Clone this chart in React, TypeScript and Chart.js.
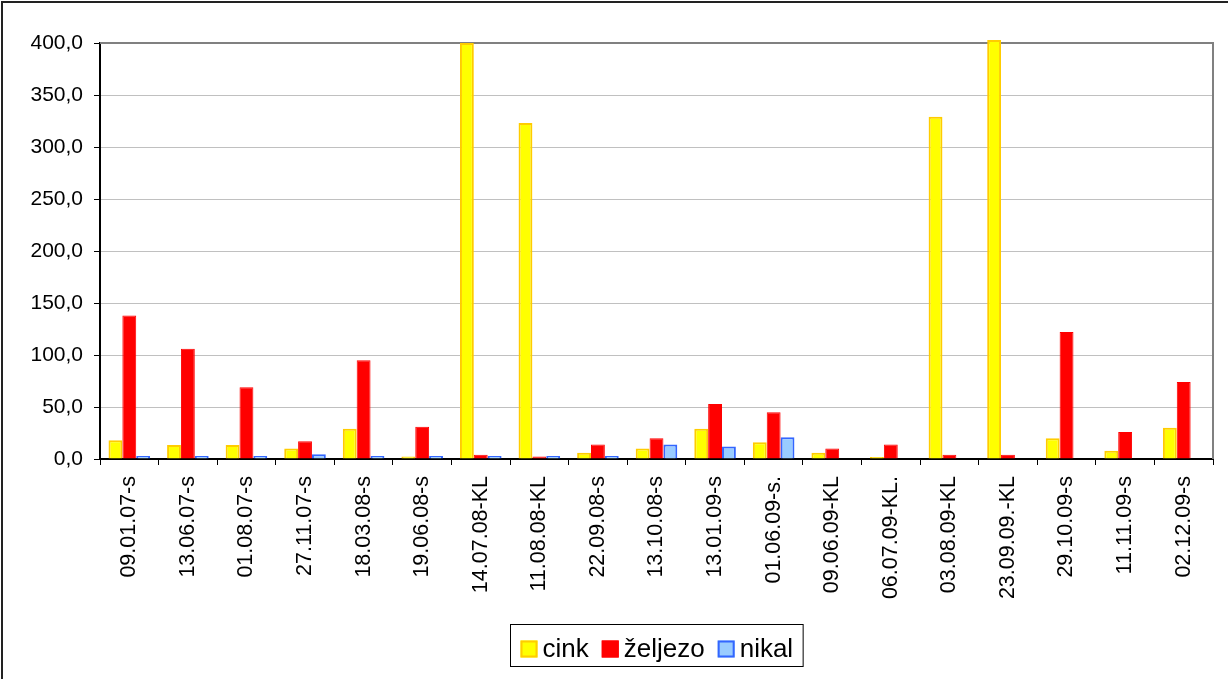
import { useEffect, useRef } from 'react';
import { Chart, registerables } from 'chart.js';

Chart.register(...registerables);

const categories = [
  '09.01.07-s', '13.06.07-s', '01.08.07-s', '27.11.07-s', '18.03.08-s', '19.06.08-s',
  '14.07.08-KL', '11.08.08-KL', '22.09.08-s', '13.10.08-s', '13.01.09-s', '01.06.09-s.',
  '09.06.09-KL', '06.07.09-KL.', '03.08.09-KL', '23.09.09.-KL', '29.10.09-s', '11.11.09-s', '02.12.09-s',
];
const cinkValues = [18, 13.5, 13.5, 10, 29, 2.5, 400, 323, 6, 10, 29, 16, 6, 2, 329, 403, 20, 8, 30];
const zeljezoValues = [138, 106, 69, 17, 95, 31, 4, 2.5, 14, 20, 53, 45, 10, 14, 4, 4, 122, 26, 74];
const nikalValues = [3, 3, 3, 4.5, 3, 3, 3, 3, 3, 14, 12, 21, null, null, null, null, null, null, null];
const seriesLabels = ['cink', 'željezo', 'nikal'];
const yMin = 0;
const yMax = 400;
const yStep = 50;

const FONT = '"Liberation Sans", Arial, sans-serif';

const framePlugin = {
  id: 'frame',
  beforeDatasetsDraw(chart: any) {
    const { ctx, chartArea: ca } = chart;
    ctx.save();
    ctx.strokeStyle = '#808080';
    ctx.lineWidth = 2;
    ctx.beginPath();
    ctx.moveTo(ca.left, ca.top);
    ctx.lineTo(ca.right, ca.top);
    ctx.lineTo(ca.right, ca.bottom);
    ctx.stroke();
    ctx.restore();
  },
  afterDraw(chart: any) {
    const { ctx, chartArea: ca, width } = chart;
    ctx.save();
    // outer chart border (left + top)
    ctx.strokeStyle = '#222';
    ctx.lineWidth = 2;
    ctx.beginPath();
    ctx.moveTo(2, chart.height);
    ctx.lineTo(2, 2);
    ctx.lineTo(width, 2);
    ctx.stroke();

    // legend
    ctx.font = '26px ' + FONT;
    const box = 17;
    const gap = 5;
    const spacing = 13;
    const padX = 10;
    const items = chart.data.datasets.map((ds: any) => ({
      label: ds.label,
      fill: ds.backgroundColor,
      stroke: ds.borderColor,
      w: ctx.measureText(ds.label).width,
    }));
    const total =
      items.reduce((s: number, it: any) => s + box + gap + it.w, 0) + spacing * (items.length - 1) + padX * 2;
    const cx = (ca.left + ca.right) / 2;
    const left = Math.round(cx - total / 2) + 0.5;
    const top = chart.height - 55 + 0.5;
    const h = 42;
    ctx.fillStyle = '#fff';
    ctx.fillRect(left, top, total, h);
    ctx.strokeStyle = '#000';
    ctx.lineWidth = 1;
    ctx.strokeRect(left, top, total, h);
    const baseline = top + 32;
    let x = left + padX;
    items.forEach((it: any) => {
      ctx.fillStyle = it.fill;
      ctx.fillRect(x, baseline - 16, box, box);
      ctx.strokeStyle = it.stroke;
      ctx.lineWidth = 2;
      ctx.strokeRect(x + 1, baseline - 15, box - 2, box - 2);
      x += box + gap;
      ctx.fillStyle = '#000';
      ctx.textBaseline = 'alphabetic';
      ctx.textAlign = 'left';
      ctx.fillText(it.label, x, baseline);
      x += it.w + spacing;
    });
    ctx.restore();
  },
};

export default function App() {
  const ref = useRef<HTMLCanvasElement>(null);
  useEffect(() => {
    document.body.style.margin = '0';
    const chart = new Chart(ref.current as HTMLCanvasElement, {
      type: 'bar',
      data: {
        labels: categories,
        datasets: [
          {
            label: seriesLabels[0],
            data: cinkValues,
            backgroundColor: '#FFFF00',
            borderColor: '#FFCC00',
            borderWidth: 2,
            clip: false,
          } as any,
          {
            label: seriesLabels[1],
            data: zeljezoValues,
            backgroundColor: '#FF0000',
            borderColor: '#FF0000',
            borderWidth: 1,
          },
          {
            label: seriesLabels[2],
            data: nikalValues,
            backgroundColor: '#99CCFF',
            borderColor: '#3366FF',
            borderWidth: 2,
          },
        ],
      },
      options: {
        responsive: false,
        animation: false,
        devicePixelRatio: 1,
        layout: { padding: { top: 43, right: 15, bottom: 0, left: 0 } },
        datasets: { bar: { categoryPercentage: 0.71, barPercentage: 1 } },
        plugins: { legend: { display: false }, tooltip: { enabled: false } },
        scales: {
          x: {
            grid: {
              display: true,
              drawOnChartArea: false,
              drawTicks: true,
              tickLength: 6,
              color: '#000',
              offset: true,
            },
            border: { color: '#000', width: 2 },
            ticks: {
              autoSkip: false,
              minRotation: 90,
              maxRotation: 90,
              color: '#000',
              padding: 11,
              font: { family: FONT, size: 21.5 },
            },
            afterFit: (scale: any) => {
              scale.height = 220;
            },
          },
          y: {
            min: yMin,
            max: yMax,
            grid: { color: '#c0c0c0', tickColor: '#000', tickLength: 6, lineWidth: 1 },
            border: { color: '#000', width: 2 },
            ticks: {
              stepSize: yStep,
              color: '#000',
              padding: 11,
              font: { family: FONT, size: 21 },
              callback: (v: any) => Number(v).toFixed(1).replace('.', ','),
            },
            afterFit: (scale: any) => {
              scale.width = 100;
            },
          },
        },
      },
      plugins: [framePlugin],
    });
    return () => chart.destroy();
  }, []);
  return (
    <div style={{ width: 1228, height: 679 }}>
      <canvas ref={ref} width={1228} height={679} style={{ display: 'block' }} />
    </div>
  );
}
